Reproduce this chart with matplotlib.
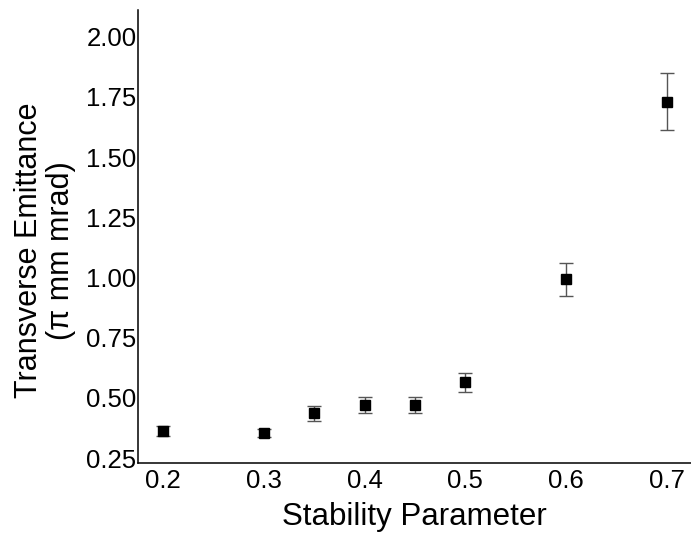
import matplotlib.pyplot as plt
from matplotlib.ticker import FormatStrFormatter

plt.rcParams['font.family'] = ['Liberation Sans', 'DejaVu Sans']

# data
stability = [0.20, 0.30, 0.35, 0.40, 0.45, 0.50, 0.60, 0.70]
emittance = [0.362, 0.354, 0.437, 0.470, 0.470, 0.565, 0.993, 1.730]
emit_err = [0.020, 0.018, 0.031, 0.033, 0.033, 0.040, 0.068, 0.118]

x_ticks = [0.2, 0.3, 0.4, 0.5, 0.6, 0.7]
y_ticks = [0.25, 0.50, 0.75, 1.00, 1.25, 1.50, 1.75, 2.00]

fig = plt.figure(figsize=(6.91, 5.33), dpi=100)
ax = fig.add_axes([0.1997, 0.1313, 0.8003, 0.8497])

ax.errorbar(stability, emittance, yerr=emit_err, fmt='s', color='black',
            markersize=7.2, ecolor='#555555', elinewidth=1.0, capsize=5,
            capthick=1.0)

ax.set_xlim(0.175, 0.724)
ax.set_ylim(0.23, 2.11)
ax.set_xticks(x_ticks)
ax.set_yticks(y_ticks)
ax.yaxis.set_major_formatter(FormatStrFormatter('%.2f'))
ax.xaxis.set_major_formatter(FormatStrFormatter('%.1f'))

for side in ['top', 'right']:
    ax.spines[side].set_visible(False)
for side in ['left', 'bottom']:
    ax.spines[side].set_linewidth(1.1)

ax.tick_params(axis='both', length=0, labelsize=18.5)
ax.tick_params(axis='y', pad=1)
ax.tick_params(axis='x', pad=4)

ax.set_xlabel('Stability Parameter', fontsize=22.5, labelpad=7)
ax.set_ylabel('Transverse Emittance\n(\u03c0 mm mrad)', fontsize=22,
              linespacing=1.1)
ax.yaxis.set_label_coords(-0.112, 0.47)

fig.savefig('out.png', dpi=100)
